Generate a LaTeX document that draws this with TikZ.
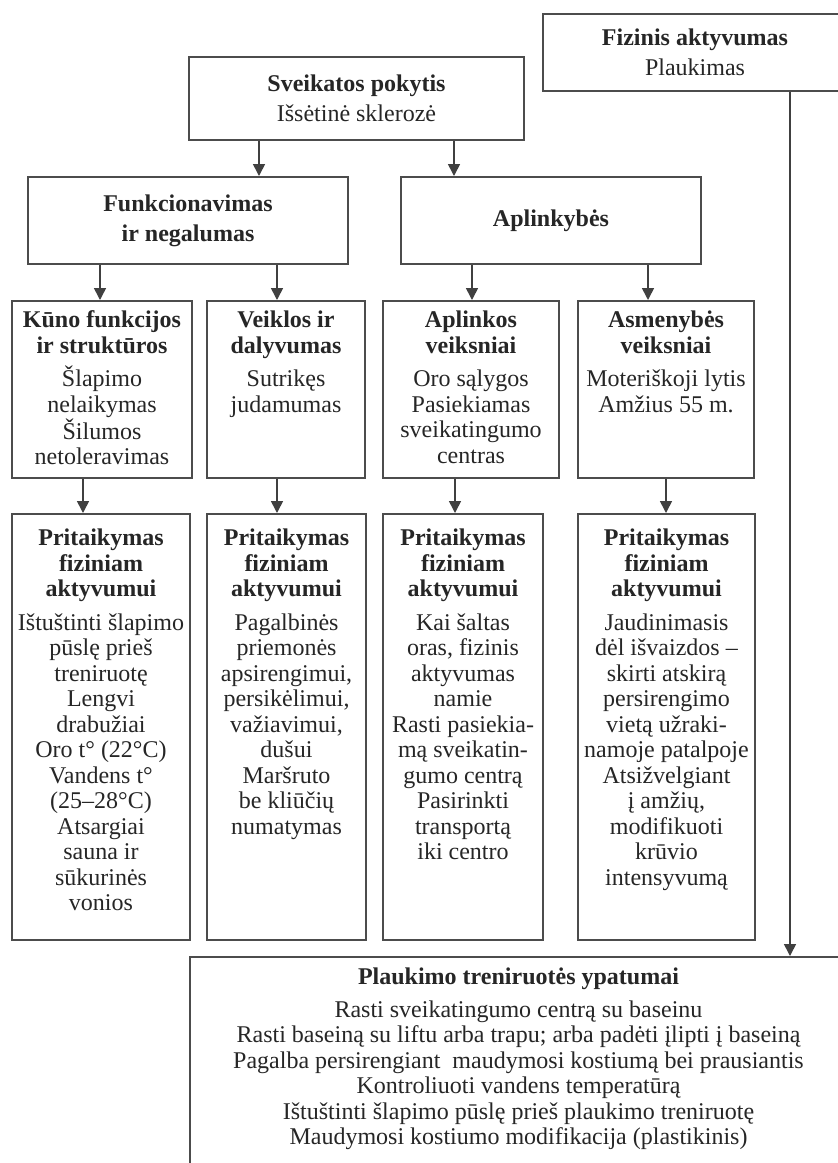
\documentclass[tikz,border=0pt]{standalone}
\usepackage{fontspec}
\setmainfont{Liberation Serif}
\usetikzlibrary{arrows.meta}
\newcommand{\cellbox}[3]{\parbox[t][#1][t]{#2}{\centering #3}}
\tikzset{box/.style={draw=black!70,line width=2pt,fill=white,text=black!85,align=center,font=\fontsize{24}{30}\selectfont},cell/.style={draw=black!70,line width=2pt,fill=white,text=black!85,anchor=north,inner xsep=2pt,inner ysep=10pt,font=\fontsize{24}{25.5}\selectfont},arr/.style={-{Triangle[width=12pt,length=12pt]},line width=1.6pt,draw=black!75}}

\begin{document}
\begin{tikzpicture}[x=1pt,y=-1pt]
\useasboundingbox (0,0) rectangle (838,1163);
\fill[white] (0,0) rectangle (838,1163);
\clip (0,0) rectangle (838,1163);
% top row
\node[box,minimum width=304pt,minimum height=77pt] (fiz) at (695,52.5) {\textbf{Fizinis aktyvumas}\\Plaukimas};
\node[box,minimum width=335pt,minimum height=83pt] (sveik) at (356.5,98.5) {\textbf{Sveikatos pokytis}\\Išsėtinė sklerozė};
\node[box,minimum width=320pt,minimum height=87pt] (funk) at (188,220.5) {\textbf{Funkcionavimas}\\\textbf{ir negalumas}};
\node[box,minimum width=300pt,minimum height=87pt] (apl) at (551,220.5) {\textbf{Aplinkybės}};
% components
\node[cell] (kuno) at (102,300) {\cellbox{157pt}{176pt}{\textbf{Kūno funkcijos\\ir struktūros}\\[8pt]Šlapimo\\nelaikymas\\Šilumos\\netoleravimas}};
\node[cell] (veik) at (286,300) {\cellbox{157pt}{154pt}{\textbf{Veiklos ir\\dalyvumas}\\[8pt]Sutrikęs\\judamumas}};
\node[cell] (aplk) at (471,300) {\cellbox{157pt}{172pt}{\textbf{Aplinkos\\veiksniai}\\[8pt]Oro sąlygos\\Pasiekiamas\\sveikatingumo\\centras}};
\node[cell] (asm) at (666,300) {\cellbox{157pt}{172pt}{\textbf{Asmenybės\\veiksniai}\\[8pt]Moteriškoji lytis\\Amžius 55 m.}};
% adaptations
\node[cell,inner ysep=15pt] (kunop) at (101,513) {\cellbox{396pt}{174pt}{\textbf{Pritaikymas\\fiziniam\\aktyvumui}\\[8pt]Ištuštinti šlapimo\\pūslę prieš\\treniruotę\\Lengvi\\drabužiai\\Oro t° (22°C)\\Vandens t°\\(25–28°C)\\Atsargiai\\sauna ir\\sūkurinės\\vonios}};
\node[cell,inner ysep=15pt] (veikp) at (286.5,513) {\cellbox{396pt}{155pt}{\textbf{Pritaikymas\\fiziniam\\aktyvumui}\\[8pt]Pagalbinės\\priemonės\\apsirengimui,\\persikėlimui,\\važiavimui,\\dušui\\Maršruto\\be kliūčių\\numatymas}};
\node[cell,inner ysep=15pt] (aplkp) at (463,513) {\cellbox{396pt}{156pt}{\textbf{Pritaikymas\\fiziniam\\aktyvumui}\\[8pt]Kai šaltas\\oras, fizinis\\aktyvumas\\namie\\Rasti pasiekia-\\mą sveikatin-\\gumo centrą\\Pasirinkti\\transportą\\iki centro}};
\node[cell,inner ysep=15pt] (asmp) at (666.5,513) {\cellbox{396pt}{173pt}{\textbf{Pritaikymas\\fiziniam\\aktyvumui}\\[8pt]Jaudinimasis\\dėl išvaizdos –\\skirti atskirą\\persirengimo\\vietą užraki-\\namoje patalpoje\\Atsižvelgiant\\į amžių,\\modifikuoti\\krūvio\\intensyvumą}};
% swimming
\node[cell,inner ysep=11pt] (plauk) at (518.5,956) {\cellbox{220pt}{653pt}{\textbf{Plaukimo treniruotės ypatumai}\\[7pt]Rasti sveikatingumo centrą su baseinu\\Rasti baseiną su liftu arba trapu; arba padėti įlipti į baseiną\\Pagalba persirengiant\ \ maudymosi kostiumą bei prausiantis\\Kontroliuoti vandens temperatūrą\\Ištuštinti šlapimo pūslę prieš plaukimo treniruotę\\Maudymosi kostiumo modifikacija (plastikinis)}};
\foreach \src/\dst/\xx in {sveik/funk/259,sveik/apl/454,funk/kuno/100,funk/veik/277,apl/aplk/472,apl/asm/648,kuno/kunop/83,veik/veikp/277,aplk/aplkp/455,asm/asmp/666,fiz/plauk/790}
\draw[arr] (\xx,0 |- \src.south) -- (\xx,0 |- \dst.north);
\end{tikzpicture}
\end{document}
